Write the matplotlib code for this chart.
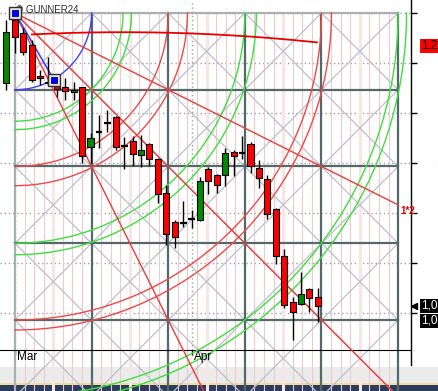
import numpy as np
import matplotlib
matplotlib.use('Agg')
import matplotlib.pyplot as plt
from matplotlib.patches import Rectangle
from matplotlib.transforms import blended_transform_factory, ScaledTranslation

plt.rcParams['font.family'] = ['Liberation Sans', 'DejaVu Sans']

# daily bars (index 1 = first March session)
opens = [1.2240, 1.2744, 1.2640, 1.2544, 1.2296, 1.2248, 1.2224, 1.2208, 1.2168, 1.2208,
         1.1728, 1.1848, 1.1920, 1.1968, 1.1736, 1.1776, 1.1664, 1.1752, 1.1632, 1.1360,
         1.1128, 1.1120, 1.1152, 1.1144, 1.1552, 1.1504, 1.1504, 1.1688, 1.1680, 1.1752,
         1.1560, 1.1472, 1.1232, 1.0856, 1.0488, 1.0472, 1.0592, 1.0528]
highs = [1.2744, 1.2800, 1.2680, 1.2584, 1.2344, 1.2448, 1.2264, 1.2280, 1.2248, 1.2208,
         1.1840, 1.1984, 1.2024, 1.1976, 1.1808, 1.1816, 1.1824, 1.1760, 1.1640, 1.1424,
         1.1144, 1.1296, 1.1224, 1.1488, 1.1568, 1.1512, 1.1720, 1.1704, 1.1816, 1.1768,
         1.1624, 1.1504, 1.1240, 1.0912, 1.0528, 1.0728, 1.0600, 1.0600]
lows = [1.2184, 1.2480, 1.2464, 1.2248, 1.2224, 1.2224, 1.2128, 1.2104, 1.2104, 1.1600,
        1.1600, 1.1720, 1.1848, 1.1704, 1.1552, 1.1576, 1.1568, 1.1576, 1.1280, 1.0944,
        1.0920, 1.1088, 1.1080, 1.1136, 1.1352, 1.1360, 1.1416, 1.1496, 1.1632, 1.1520,
        1.1400, 1.1152, 1.0792, 1.0440, 1.0184, 1.0464, 1.0408, 1.0328]
closes = [1.2648, 1.2608, 1.2488, 1.2264, 1.2280, 1.2240, 1.2192, 1.2176, 1.2184, 1.1656,
          1.1800, 1.1848, 1.1920, 1.1728, 1.1736, 1.1672, 1.1704, 1.1632, 1.1352, 1.1032,
          1.1008, 1.1120, 1.1152, 1.1456, 1.1456, 1.1424, 1.1680, 1.1656, 1.1680, 1.1576,
          1.1480, 1.1192, 1.0856, 1.0464, 1.0408, 1.0552, 1.0520, 1.0456]

month_ticks = [1, 22]
month_labels = ['Mar', 'Apr']
price_ticks = [1.04, 1.08, 1.12, 1.16, 1.20, 1.24, 1.28]

# GUNNER24 setup: start point, square size (bars, price)
g_bar, g_price = 1.03, 1.28
g_w, g_h = 9.1, 0.0614
g_cols, g_rows = 5, 5
second_bar, second_price = 5.64, 1.2268
# double arcs: inner radius, outer radius (in squares), colour
arcs = [(1.41, 1.52, '#3ce03c'), (2.0, 2.25, '#f04848'), (3.0, 3.15, '#3ce03c'),
        (4.0, 4.13, '#f04848'), (5.0, 5.11, '#3ce03c')]
# angle lines: price squares per time square
angles = [1.0, 0.5, 2.0]
# swing arc from older setup: centre (time, price squares from start), radius
swing_c, swing_r, swing_span = (1.41, 24.42), 24.17, (0.22, 3.94)

last_price, last_low, arc_price = 1.0456, 1.0336, 1.2536

fig = plt.figure(figsize=(4.39, 3.91), dpi=100)
fig.patches.append(Rectangle((0, 8.3/391), 1, 16/391, transform=fig.transFigure,
                             fc='#ebebeb', ec='none', zorder=-2))
fig.patches.append(Rectangle((0, 5.7/391), 1, 2.6/391, transform=fig.transFigure,
                             fc='#f3dca0', ec='none', zorder=-2))
fig.patches.append(Rectangle((0, 0), 1, 5.7/391, transform=fig.transFigure,
                             fc='#2c3d5b', ec='none', zorder=-2))
ax = fig.add_axes([0, 41/391, 411/439, 350/391])
ax.set_xlim(-0.748, 48.06)
ax.set_ylim(1.0104, 1.2904)


def gp(tc, pc):
    return g_bar + np.asarray(tc) * g_w, g_price - np.asarray(pc) * g_h


bottom = g_price - g_rows * g_h
right = g_bar + g_cols * g_w

# pink time divisions
for k in range(1, g_cols * 8):
    if k % 8 == 0:
        continue
    x = g_bar + k / 8 * g_w
    if k % 8 == 4:
        ax.plot([x, x], [g_price, bottom], color='#f7e6e6', lw=2.2, clip_on=False, zorder=1)
    else:
        ax.plot([x, x], [g_price, bottom], color='#efcaca', lw=0.8, clip_on=False, zorder=1)

# cell diagonals
for i in range(g_cols):
    for j in range(g_rows):
        x, y = gp([i, i + 1], [j, j + 1])
        ax.plot(x, y, color='#bcc0cc', lw=0.9, clip_on=False, zorder=1.5)
        ax.plot(x, y[::-1], color='#bcc0cc', lw=0.9, clip_on=False, zorder=1.5)

# square borders
for k in range(g_cols + 1):
    x = g_bar + k * g_w
    c = '#a8b0b0' if k == 0 else '#55686a'
    ax.plot([x, x], [g_price, bottom], color=c, lw=1.6, clip_on=False, zorder=2)
for k in range(g_rows):
    y = g_price - k * g_h
    c = '#aab0b2' if k == 0 else '#55686a'
    ax.plot([g_bar, right], [y, y], color=c, lw=1.6, clip_on=False, zorder=2)

# arcs
th = np.linspace(0, np.pi / 2, 200)
x, y = gp(np.cos(th), np.sin(th))
ax.plot(x, y, color='#4040ff', lw=1, clip_on=False, zorder=3)
for r1, r2, c in arcs:
    for r in (r1, r2):
        x, y = gp(r * np.cos(th), r * np.sin(th))
        ax.plot(x, y, color=c, lw=1, clip_on=False, zorder=3)

# angle lines
for s in angles:
    tmax = min(g_cols, g_rows / s)
    x, y = gp([0, tmax], [0, tmax * s])
    ax.plot(x, y, color='#f03a3a', lw=1, clip_on=False, zorder=3)
x, y = gp(g_cols, g_cols * 0.5)
ax.annotate('1*2', (x, y), xytext=(2, -6.5), textcoords='offset pixels', color='#e00000',
            fontsize=7, fontweight='bold', ha='left', va='center', annotation_clip=False, zorder=9)

# swing arc
ts = np.linspace(swing_span[0], swing_span[1], 200)
ps = swing_c[1] - np.sqrt(swing_r ** 2 - (ts - swing_c[0]) ** 2)
x, y = gp(ts, ps)
ax.plot(x, y, color='#e80000', lw=1.3, zorder=3)

# first square line
ax.plot([g_bar, second_bar], [g_price, second_price], color='#4040ff', lw=1.2, zorder=3)

# candles
idx = np.arange(len(opens))
ax.vlines(idx, lows, highs, color='black', lw=1, zorder=5)
for i in idx:
    o, c = opens[i], closes[i]
    if o == c:
        ax.hlines(o, i - 0.4, i + 0.4, color='black', lw=1.6, zorder=6)
    else:
        col = '#008a00' if c > o else '#ff0000'
        ax.bar(i, abs(c - o), bottom=min(o, c), width=0.72, color=col,
               edgecolor='black', lw=0.8, zorder=6)

ax.text(1.15, 1.2802, '\u00a9 GUNNER24', fontsize=7, color='#303030', va='baseline', zorder=7)

for bx, by in [(g_bar, g_price), (second_bar, second_price)]:
    ax.plot(bx, by, marker='s', ms=8, mfc='#e6e6e6', mec='#303030', mew=1, zorder=8)
    ax.plot(bx, by, marker='s', ms=4.5, mfc='#0000ff', mec='#000080', mew=0.6, zorder=9)

# axes styling
for sp in ['top', 'left', 'right']:
    ax.spines[sp].set_visible(False)
ax.plot([1, 1], [1, -15 / 350], transform=ax.transAxes, color='black', lw=1, clip_on=False)
ax.yaxis.tick_right()
# lowest scale label sits under the price boxes
ax.set_yticks(price_ticks, [''] + [f'{v:.4f}'.replace('.', ',') for v in price_ticks[1:]])
ax.tick_params(axis='y', length=4.3, width=1, color='black', labelcolor='#e07000',
               labelsize=8, pad=14)
ax.set_xticks(month_ticks, [])
ax.tick_params(axis='x', length=3.6, width=1)
xtr = blended_transform_factory(ax.transData, ax.transAxes)
off = ScaledTranslation(2 / 100, 0, fig.dpi_scale_trans)
for t, lab in zip(month_ticks, month_labels):
    ax.text(t, -0.002, lab, transform=xtr + off, fontsize=8.5, color='black',
            ha='left', va='top', clip_on=False, zorder=10)
ax.grid(True, ls=(0, (1, 2)), color='#a0a0a0', lw=1, zorder=0)
ax.set_axisbelow(True)

# price markers on the scale
tr = blended_transform_factory(ax.transAxes, ax.transData)
box = dict(boxstyle='square,pad=0.05', ec='none')
ax.text(1.0243, arc_price, f'{arc_price:.4f}'.replace('.', ','), transform=tr, fontsize=8.5,
        color='black', va='center', ha='left', clip_on=False, bbox=dict(box, fc='#ff0000'))
ax.text(1.0243, last_price, f'{last_price:.4f}'.replace('.', ','), transform=tr, fontsize=8.5,
        color='white', va='center', ha='left', clip_on=False, bbox=dict(box, fc='black'))
ax.plot(1.008, last_price, marker='<', ms=5, color='black', transform=tr, clip_on=False)
ax.text(1.0243, last_low, f'{last_low:.4f}'.replace('.', ','), transform=tr, fontsize=8.5,
        color='white', va='center', ha='left', clip_on=False, bbox=dict(box, fc='black'))

plt.savefig('out.png', dpi=100)
